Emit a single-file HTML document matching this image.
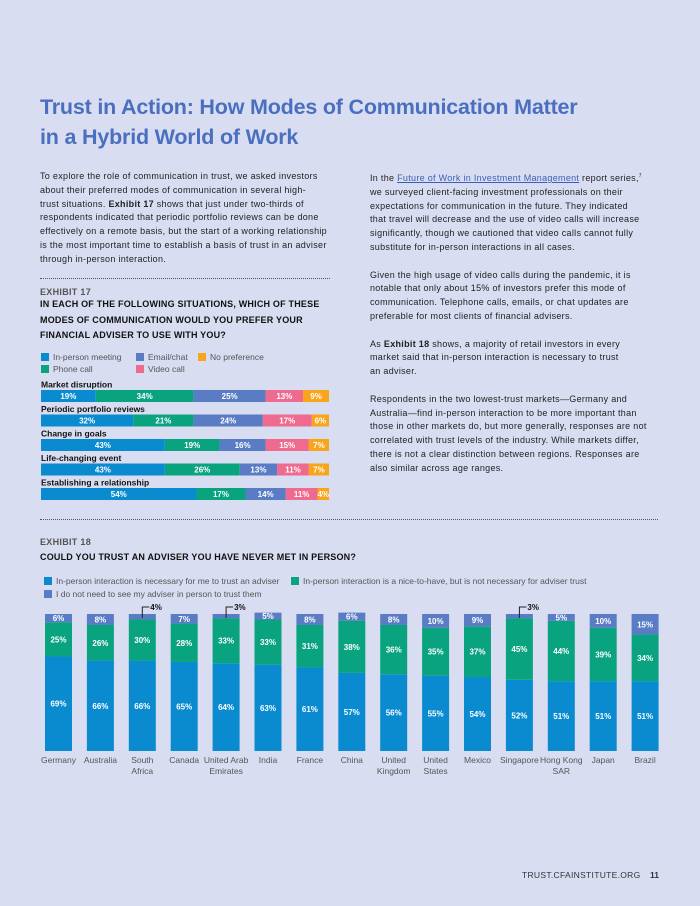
<!DOCTYPE html>
<html><head><meta charset="utf-8">
<style>
body{margin:0;background:#d9ddf1;font-family:"Liberation Sans",sans-serif;color:#222;}
#page{position:relative;width:700px;height:906px;overflow:hidden;background:#d9ddf1;}
.abs{position:absolute;}
h1{position:absolute;left:40px;top:92px;margin:0;font-size:21.5px;line-height:30px;color:#4a6fbf;font-weight:bold;letter-spacing:-0.2px;white-space:nowrap;}
.p{position:absolute;font-size:9px;letter-spacing:0.3px;line-height:13.8px;color:#222;white-space:nowrap;}
.rule{position:absolute;border-top:1px dotted #555;height:0;}
.ex{position:absolute;font-size:9px;color:#555;font-weight:bold;letter-spacing:0.3px;}
.q{position:absolute;font-size:9px;font-weight:bold;line-height:15.5px;color:#111;letter-spacing:0.2px;}
.lg{position:absolute;font-size:8.5px;color:#555;white-space:nowrap;}
.lg i{display:inline-block;width:8px;height:8px;vertical-align:-1px;margin-right:4px;}
a{color:#3b5fb5;}
</style></head>
<body>
<div id="page">
<h1>Trust in Action: How Modes of Communication Matter<br>in a Hybrid World of Work</h1>
<div class="p" style="left:40px;top:170px">To explore the role of communication in trust, we asked investors<br>about their preferred modes of communication in several high-<br>trust situations. <b>Exhibit 17</b> shows that just under two-thirds of<br>respondents indicated that periodic portfolio reviews can be done<br>effectively on a remote basis, but the start of a working relationship<br>is the most important time to establish a basis of trust in an adviser<br>through in-person interaction.</div>
<div class="p" style="left:370px;top:170px">In the <a href="#">Future of Work in Investment Management</a> report series,<sup style="font-size:5px">7</sup><br>we surveyed client-facing investment professionals on their<br>expectations for communication in the future. They indicated<br>that travel will decrease and the use of video calls will increase<br>significantly, though we cautioned that video calls cannot fully<br>substitute for in-person interactions in all cases.<br><br>Given the high usage of video calls during the pandemic, it is<br>notable that only about 15% of investors prefer this mode of<br>communication. Telephone calls, emails, or chat updates are<br>preferable for most clients of financial advisers.<br><br>As <b>Exhibit 18</b> shows, a majority of retail investors in every<br>market said that in-person interaction is necessary to trust<br>an adviser.<br><br>Respondents in the two lowest-trust markets—Germany and<br>Australia—find in-person interaction to be more important than<br>those in other markets do, but more generally, responses are not<br>correlated with trust levels of the industry. While markets differ,<br>there is not a clear distinction between regions. Responses are<br>also similar across age ranges.</div>

<div class="rule" style="left:40px;top:278px;width:290px"></div>
<div class="ex" style="left:40px;top:287px">EXHIBIT 17</div>
<div class="q" style="left:40px;top:297px;width:300px">IN EACH OF THE FOLLOWING SITUATIONS, WHICH OF THESE MODES OF COMMUNICATION WOULD YOU PREFER YOUR FINANCIAL ADVISER TO USE WITH YOU?</div>
<div class="lg" style="left:41px;top:352px"><i style="background:#0a8bd0"></i>In-person meeting</div>
<div class="lg" style="left:136px;top:352px"><i style="background:#5a7cc4"></i>Email/chat</div>
<div class="lg" style="left:198px;top:352px"><i style="background:#f9a51b"></i>No preference</div>
<div class="lg" style="left:41px;top:364px"><i style="background:#0aa37f"></i>Phone call</div>
<div class="lg" style="left:136px;top:364px"><i style="background:#ee6a8f"></i>Video call</div>
<svg id="c17" class="abs" style="left:0;top:0" width="700" height="520"></svg>

<div class="rule" style="left:40px;top:519px;width:618px"></div>
<div class="ex" style="left:40px;top:537px">EXHIBIT 18</div>
<div class="q" style="left:40px;top:550px">COULD YOU TRUST AN ADVISER YOU HAVE NEVER MET IN PERSON?</div>
<div class="lg" style="left:44px;top:576px"><i style="background:#0a8bd0"></i>In-person interaction is necessary for me to trust an adviser</div>
<div class="lg" style="left:291px;top:576px"><i style="background:#0aa37f"></i>In-person interaction is a nice-to-have, but is not necessary for adviser trust</div>
<div class="lg" style="left:44px;top:589px"><i style="background:#5a7cc4"></i>I do not need to see my adviser in person to trust them</div>
<svg id="c18" class="abs" style="left:0;top:0" width="700" height="800"></svg>

<div class="abs" style="left:522px;top:870px;font-size:8.5px;color:#333;letter-spacing:0.3px">TRUST.CFAINSTITUTE.ORG</div>
<div class="abs" style="left:650px;top:870px;font-size:8.5px;font-weight:bold;color:#333">11</div>
</div>
<script>
const situations=["Market disruption","Periodic portfolio reviews","Change in goals","Life-changing event","Establishing a relationship"];
const inPerson=[19,32,43,43,54];
const phone=[34,21,19,26,17];
const email=[25,24,16,13,14];
const video=[13,17,15,11,11];
const noPref=[9,6,7,7,4];
const countries=[["Germany"],["Australia"],["South","Africa"],["Canada"],["United Arab","Emirates"],["India"],["France"],["China"],["United","Kingdom"],["United","States"],["Mexico"],["Singapore"],["Hong Kong","SAR"],["Japan"],["Brazil"]];
const necessary=[69,66,66,65,64,63,61,57,56,55,54,52,51,51,51];
const niceToHave=[25,26,30,28,33,33,31,38,36,35,37,45,44,39,34];
const notNeeded=[6,8,4,7,3,5,8,6,8,10,9,3,5,10,15];
const NS="http://www.w3.org/2000/svg";
function mk(svg,tag,a,txt){const e=document.createElementNS(NS,tag);for(const k in a)e.setAttribute(k,a[k]);if(txt!==undefined)e.textContent=txt;svg.appendChild(e);return e;}
// Exhibit 17
const s17=document.getElementById('c17');
const x17=v=>41+v*2.88;
const series17=[inPerson,phone,email,video,noPref];
const cols17=["#0a8bd0","#0aa37f","#5a7cc4","#ee6a8f","#f9a51b"];
const names17=["in-person","phone","email","video","no-preference"];
situations.forEach((s,i)=>{
  const y=390+i*24.5;
  const t=mk(s17,'text',{x:41,y:y-2.5,'font-size':8.5,'font-weight':'bold',fill:'#111'},s);
  
  
  let cum=0;
  series17.forEach((ser,k)=>{
    const v=ser[i];
    const r=mk(s17,'rect',{x:x17(cum),y:y,width:x17(cum+v)-x17(cum),height:12,fill:cols17[k]});
    
    
    const l=mk(s17,'text',{x:(x17(cum)+x17(cum+v))/2,y:y+9,'font-size':8,'font-weight':'bold',fill:'#fff','text-anchor':'middle'},v+'%');
    
    
    cum+=v;
  });
});
// Exhibit 18
const s18=document.getElementById('c18');
const base=751,scale=1.37;
const y18=v=>base-v*scale;
const bx=i=>45+i*41.9;
countries.forEach((c,i)=>{
  const x=bx(i),w=27;
  const a=necessary[i],b=niceToHave[i],d=notNeeded[i];
  const segs=[[0,a,"#0a8bd0",'bar-necessary'],[a,a+b,"#0aa37f",'bar-nice-to-have'],[a+b,a+b+d,"#5a7cc4",'bar-not-needed']];
  segs.forEach((sg,k)=>{
    const r=mk(s18,'rect',{x:x,y:y18(sg[1]),width:w,height:y18(sg[0])-y18(sg[1]),fill:sg[2]});
    
    
    const v=sg[1]-sg[0];
    if(k==2&&v<5){
      const ty=y18(sg[1])-4;
      mk(s18,'path',{d:`M${x+w/2} ${y18(sg[1])+4}V${ty-3}h7`,stroke:'#222',fill:'none','stroke-width':1});
      const l=mk(s18,'text',{x:x+w/2+8,y:ty,'font-size':8,'font-weight':'bold',fill:'#111'},v+'%');
      
      
    } else {
      const l=mk(s18,'text',{x:x+w/2,y:(y18(sg[0])+y18(sg[1]))/2+3,'font-size':8,'font-weight':'bold',fill:'#fff','text-anchor':'middle'},v+'%');
      
      
    }
  });
  c.forEach((line,j)=>{
    const t=mk(s18,'text',{x:x+w/2,y:763+j*11,'font-size':8.5,fill:'#555','text-anchor':'middle'},line);
    
    
  });
});
</script>
</body></html>
